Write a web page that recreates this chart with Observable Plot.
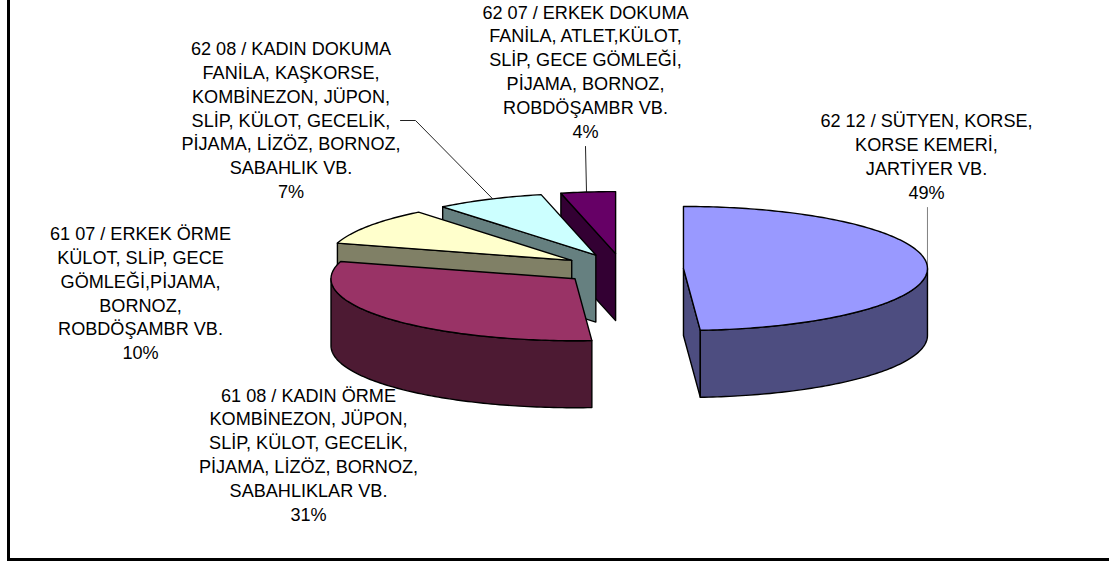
<!DOCTYPE html>
<html>
<head>
<meta charset="utf-8">
<script src="https://cdn.jsdelivr.net/npm/d3@7"></script>
<script src="https://cdn.jsdelivr.net/npm/@observablehq/plot@0.6"></script>
<style>
html,body{margin:0;padding:0;background:#fff;}
svg{display:block;max-width:none;}
</style>
</head>
<body>
<div id="chart"></div>
<script>
// Data
const categories = [
  "62 12 / SÜTYEN, KORSE,\nKORSE KEMERİ,\nJARTİYER VB.",
  "61 08 / KADIN ÖRME\nKOMBİNEZON, JÜPON,\nSLİP, KÜLOT, GECELİK,\nPİJAMA, LİZÖZ, BORNOZ,\nSABAHLIKLAR VB.",
  "61 07 / ERKEK ÖRME\nKÜLOT, SLİP, GECE\nGÖMLEĞİ,PİJAMA,\nBORNOZ,\nROBDÖŞAMBR VB.",
  "62 08 / KADIN DOKUMA\nFANİLA, KAŞKORSE,\nKOMBİNEZON, JÜPON,\nSLİP, KÜLOT, GECELİK,\nPİJAMA, LİZÖZ, BORNOZ,\nSABAHLIK VB.",
  "62 07 / ERKEK DOKUMA\nFANİLA, ATLET,KÜLOT,\nSLİP, GECE GÖMLEĞİ,\nPİJAMA, BORNOZ,\nROBDÖŞAMBR VB."
];
const shares = [48.9, 30.6, 9.7, 7.2, 3.6];
const percentLabels = ["49%", "31%", "10%", "7%", "4%"];

// Styling and layout
const topColors = ["#9999FF", "#993366", "#FFFFCC", "#CCFFFF", "#660066"];
const sideColors = ["#4D4D80", "#4D1A33", "#808066", "#668080", "#330033"];
const labelX = [926, 308, 140, 290.5, 585];
const labelY = [155, 453, 291.5, 118.5, 70];
const pie = {cx: 622, cy: 268.5, rx: 244, ry: 62, depth: 67, explode: 0.25};
const width = 1109, height = 562, lineStep = 23.8, fontSize = 18.1;

// Pie geometry, derived from the shares
const total = d3.sum(shares);
let cum = 0;
const slices = shares.map((v, i) => {
  const a0 = cum / total * 360; cum += v;
  const a1 = cum / total * 360;
  const mid = (a0 + a1) / 2 * Math.PI / 180;
  return {
    i, a0, a1,
    ax: pie.cx + pie.explode * pie.rx * Math.sin(mid),
    ay: pie.cy - pie.explode * pie.ry * Math.cos(mid)
  };
});
const rim = (s, deg, z = 0) => {
  const t = deg * Math.PI / 180;
  return [s.ax + pie.rx * Math.sin(t), s.ay - pie.ry * Math.cos(t) + z];
};
const arc = (s, from, to, z = 0) => {
  const n = Math.max(1, Math.ceil(Math.abs(to - from)));
  return d3.range(n + 1).map(k => rim(s, from + (to - from) * k / n, z));
};
const face = (pts, fill) => Plot.line(pts, {
  x: d => d[0], y: d => d[1], fill, stroke: "#000", strokeWidth: 1.4,
  curve: "linear-closed", strokeLinejoin: "round"
});

// Back to front: last slice first
const pieMarks = [];
for (const s of [...slices].reverse()) {
  const top = [s.ax, s.ay], bot = [s.ax, s.ay + pie.depth];
  const side = sideColors[s.i];
  if (s.a0 >= 180) {
    pieMarks.push(face([rim(s, s.a0), top, bot, rim(s, s.a0, pie.depth)], side));
  }
  if (s.a1 <= 180) {
    pieMarks.push(face([top, rim(s, s.a1), rim(s, s.a1, pie.depth), bot], side));
  }
  const v0 = Math.max(s.a0, 90), v1 = Math.min(s.a1, 270);
  if (v1 > v0) {
    pieMarks.push(face([...arc(s, v0, v1), ...arc(s, v1, v0, pie.depth)], side));
  }
  pieMarks.push(face([top, ...arc(s, s.a0, s.a1)], topColors[s.i]));
}

const labels = categories.map((c, i) => ({
  text: c + "\n" + percentLabels[i], x: labelX[i], y: labelY[i]
}));

// Leader lines run from a label to the rim of its slice
const s0 = slices[0], s3 = slices[3];
const leaders = [
  {stroke: "#808080", pts: [[rim(s0, 90)[0], 207], rim(s0, 90)]},
  {stroke: "#222", pts: [[400, 120], [415, 120], rim(s3, 335)]},
  {stroke: "#222", pts: [[585, 146], [586, 191]]}
];

const chart = Plot.plot({
  width, height,
  marginTop: 0, marginRight: 0, marginBottom: 0, marginLeft: 0,
  x: {domain: [0, width], range: [0, width], axis: null},
  y: {domain: [0, height], range: [0, height], axis: null},
  style: {background: "#fff", overflow: "hidden"},
  marks: [
    Plot.rect([0], {x1: 8.5, x2: 1140, y1: -20, y2: 559.5, fill: "none", stroke: "#000", strokeWidth: 3}),
    ...leaders.map(l => Plot.line(l.pts, {x: d => d[0], y: d => d[1], stroke: l.stroke, strokeWidth: 1})),
    ...pieMarks,
    Plot.text(labels, {
      x: "x", y: "y", text: "text", textAnchor: "middle", lineAnchor: "middle",
      lineHeight: lineStep / fontSize, fontSize, fill: "#000",
      fontFamily: "'Liberation Sans', Arial, sans-serif"
    })
  ]
});
document.getElementById("chart").appendChild(chart);
</script>
</body>
</html>
